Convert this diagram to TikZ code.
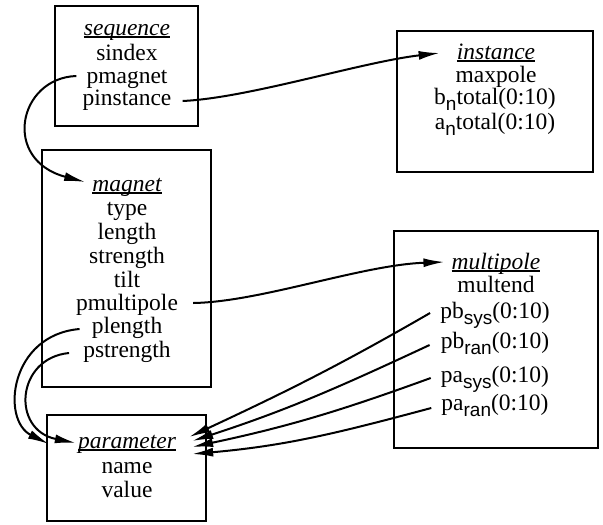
\documentclass[tikz,border=0pt]{standalone}
\usepackage{fontspec}
\setmainfont{Liberation Serif}
\newfontfamily\subfont{Liberation Sans}
\usetikzlibrary{arrows.meta}
% underlined italic record title
\newcommand\ulabel[1]{\setbox0\hbox{\itshape #1}\rlap{\rule[-2.5pt]{\wd0}{1.4pt}}\box0}
% lowered index after a field name
\newcommand\lowsub[1]{\raisebox{-6pt}{\fontsize{19}{19}\selectfont\subfont #1}}
\begin{document}
\begin{tikzpicture}[x=1pt, y=-1pt,
  txt/.style={anchor=base, inner sep=0pt, font=\fontsize{23.5}{23.5}\selectfont},
  box/.style={draw, line width=2.4pt, inner sep=0pt},
  link/.style={line width=2pt, -{Latex[length=21pt,width=9pt]}}]
\useasboundingbox (0,0) rectangle (603,525);

% record boxes
\node[box, minimum width=143pt, minimum height=120pt] (seqbox)  at (126.5,66)  {};
\node[box, minimum width=196pt, minimum height=141pt] (instbox) at (495,101.5) {};
\node[box, minimum width=169pt, minimum height=237pt] (magbox)  at (126.5,268.5) {};
\node[box, minimum width=204pt, minimum height=217pt] (multbox) at (496,339.5) {};
\node[box, minimum width=159pt, minimum height=106pt] (parbox)  at (126.5,468) {};

% sequence
\node[txt] (sequence)  at (127,35)  {\ulabel{sequence}};
\node[txt] (sindex)    at (127,60)  {sindex};
\node[txt] (pmagnet)   at (127,83)  {pmagnet};
\node[txt] (pinstance) at (127,105) {pinstance};

% instance
\node[txt] (instance) at (496,59)  {\ulabel{instance}};
\node[txt] (maxpole)  at (496,82)  {maxpole};
\node[txt] (bntotal)  at (495,104) {b\lowsub{n}total(0:10)};
\node[txt] (antotal)  at (495,129) {a\lowsub{n}total(0:10)};

% magnet
\node[txt] (magnet)     at (127,191) {\ulabel{magnet}};
\node[txt] (type)       at (127,215) {type};
\node[txt] (length)     at (127,239) {length};
\node[txt] (strength)   at (127,263) {strength};
\node[txt] (tilt)       at (127,287) {tilt};
\node[txt] (pmultipole) at (127,310) {pmultipole};
\node[txt] (plength)    at (127,333) {plength};
\node[txt] (pstrength)  at (127,357) {pstrength};

% multipole
\node[txt] (multipole) at (496,269) {\ulabel{multipole}};
\node[txt] (multend)   at (496,292) {multend};
\node[txt] (pbsys)     at (495,318) {pb\lowsub{sys}(0:10)};
\node[txt] (pbran)     at (495,348) {pb\lowsub{ran}(0:10)};
\node[txt] (pasys)     at (495,382) {pa\lowsub{sys}(0:10)};
\node[txt] (paran)     at (495,410) {pa\lowsub{ran}(0:10)};

% parameter
\node[txt] (parameter) at (127,448) {\ulabel{parameter}};
\node[txt] (name)      at (127,473) {name};
\node[txt] (value)     at (127,497) {value};

% pointers
\draw[link] ([shift={(11,-4)}]pinstance.base east)
  .. controls +(66,-3) and +(-78,9) .. ([shift={(-17,-6)}]instance.base west);
\draw[link] ([shift={(-10,-7)}]pmagnet.base west)
  .. controls +(-58,2) and +(-84,-22) .. ([shift={(-7,-9)}]magnet.base west);
\draw[link] ([shift={(15,-7)}]pmultipole.base east)
  .. controls +(67,-1) and +(-83,3) .. ([shift={(-7,-7)}]multipole.base west);
\draw[link] ([shift={(-12,-4)}]plength.base west)
  .. controls +(-70,6) and +(-48,-24) .. ([shift={(-29,-4)}]parameter.base west);
\draw[link] ([shift={(-14,-4)}]pstrength.base west)
  .. controls +(-53,5) and +(-65,-13) .. ([shift={(-2,-5)}]parameter.base west);

\draw[link] ([shift={(-10,-5)}]pbsys.base west) to[out=210, in=25]
  ([shift={(13,-11)}]parameter.base east);
\draw[link] ([shift={(-11,-3)}]pbran.base west) to[out=205, in=18]
  ([shift={(16,-7)}]parameter.base east);
\draw[link] ([shift={(-10,-4)}]pasys.base west) to[out=200, in=12]
  ([shift={(16,-1)}]parameter.base east);
\draw[link] ([shift={(-10,-2)}]paran.base west) to[out=195, in=5]
  ([shift={(16,6)}]parameter.base east);
\end{tikzpicture}
\end{document}
